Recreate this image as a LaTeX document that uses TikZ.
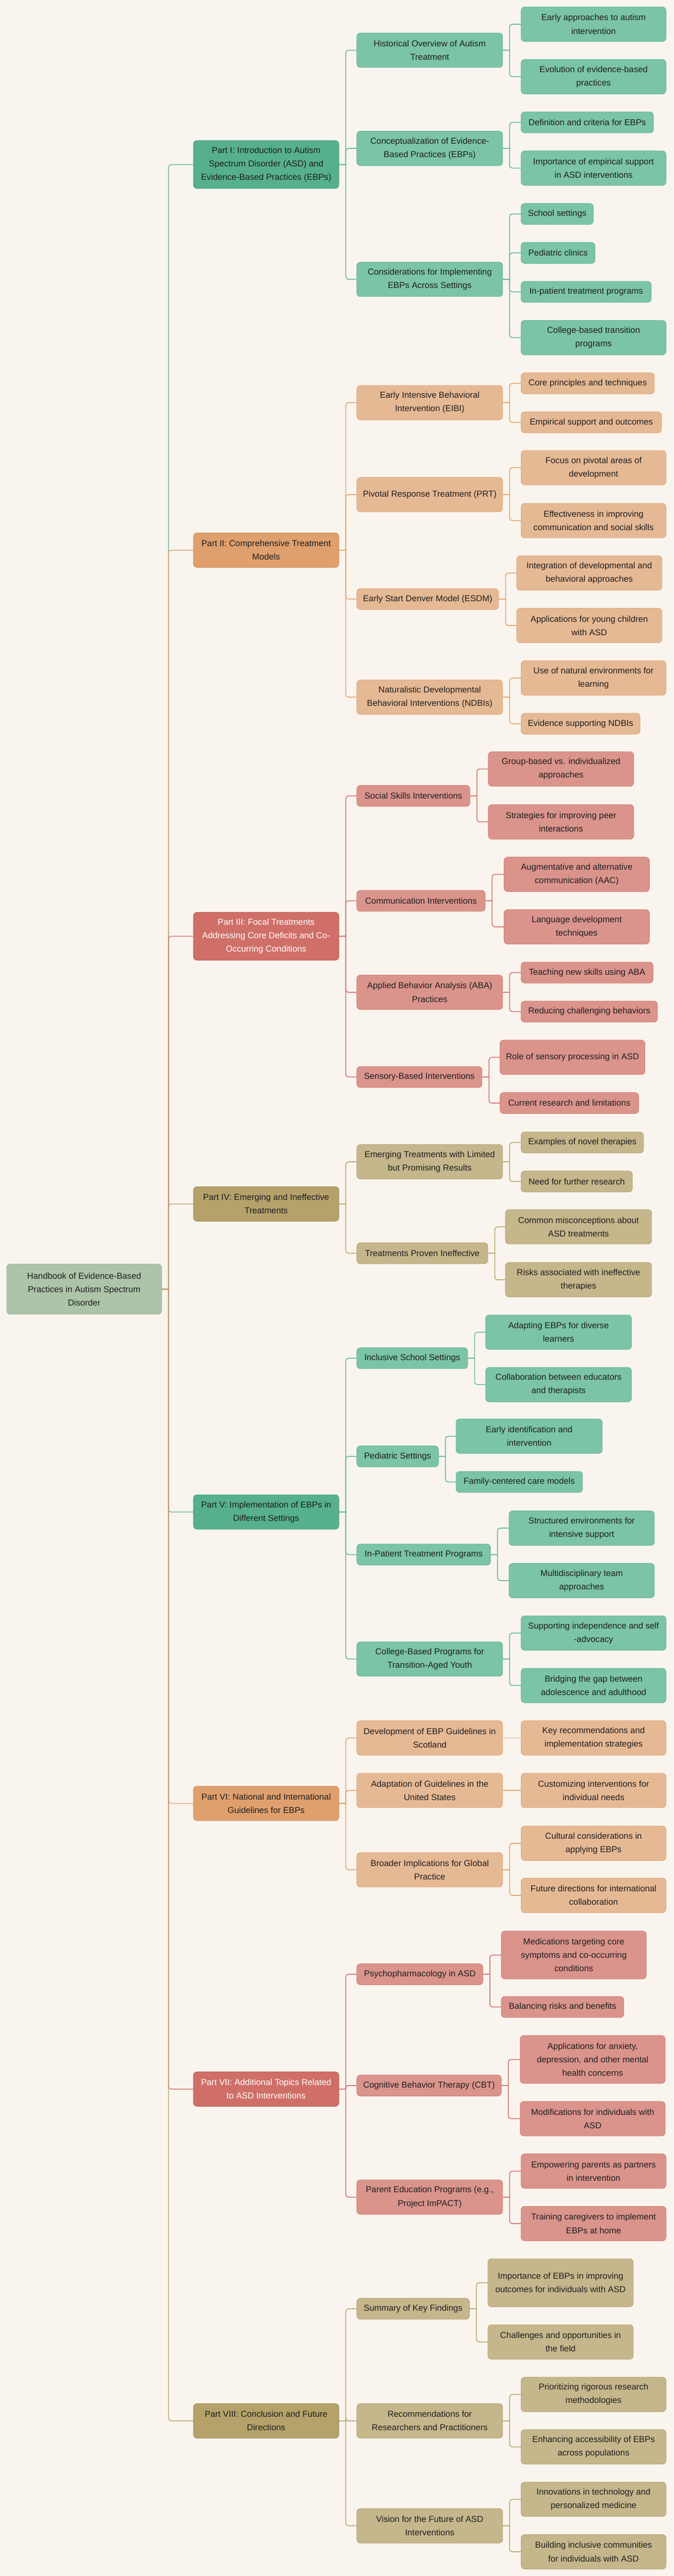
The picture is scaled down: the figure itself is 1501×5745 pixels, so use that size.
\documentclass[tikz,border=0pt]{standalone}
\usepackage{fontspec}
\setmainfont{Liberation Sans}
\usetikzlibrary{backgrounds}
\pgfdeclarelayer{bgfill}
\pgfdeclarelayer{links}
\pgfsetlayers{bgfill,links,main}
\definecolor{bg}{HTML}{F9F5EE}
\definecolor{txt}{HTML}{1E1E1E}
\definecolor{rootF}{HTML}{ADC4A9}\definecolor{rootB}{HTML}{9BB796}
\definecolor{g1F}{HTML}{56B08D}\definecolor{g1B}{HTML}{489E7D}
\definecolor{g2F}{HTML}{7BC4A7}\definecolor{g2B}{HTML}{69B896}
\definecolor{o1F}{HTML}{DFA06E}\definecolor{o1B}{HTML}{CF8E5B}
\definecolor{o2F}{HTML}{E6B995}\definecolor{o2B}{HTML}{E0A87C}
\definecolor{r1F}{HTML}{CF6F68}\definecolor{r1B}{HTML}{BD5E57}
\definecolor{r2F}{HTML}{DA948C}\definecolor{r2B}{HTML}{D27F77}
\definecolor{y1F}{HTML}{B4A26A}\definecolor{y1B}{HTML}{A2905A}
\definecolor{y2F}{HTML}{C5B68C}\definecolor{y2B}{HTML}{B6A676}
\definecolor{gL}{HTML}{6CBC99}\definecolor{oL}{HTML}{E3A672}
\definecolor{rL}{HTML}{D47B73}\definecolor{yL}{HTML}{BCAA74}
\tikzset{
  box/.style={draw, line width=1pt, rounded corners=8pt, inner sep=0pt, align=center,
    text=txt, font=\fontsize{19.2}{30}\selectfont},
  rootbox/.style={box, fill=rootF, draw=rootB},
  gA/.style={box, fill=g1F, draw=g1B}, gB/.style={box, fill=g2F, draw=g2B},
  oA/.style={box, fill=o1F, draw=o1B}, oB/.style={box, fill=o2F, draw=o2B},
  rA/.style={box, fill=r1F, draw=r1B, text=white}, rB/.style={box, fill=r2F, draw=r2B},
  yA/.style={box, fill=y1F, draw=y1B}, yB/.style={box, fill=y2F, draw=y2B},
  lnk/.style={line width=2pt},
  tg/.style={lnk, draw=g1F, draw opacity=0.8}, to/.style={lnk, draw=o1F, draw opacity=0.8},
  tr/.style={lnk, draw=r1F, draw opacity=0.8}, ty/.style={lnk, draw=y1F, draw opacity=0.8},
  cg/.style={lnk, draw=gL}, co/.style={lnk, draw=oL}, cr/.style={lnk, draw=rL}, cy/.style={lnk, draw=yL},
}
\newcommand\mynode[7]{\node[#2,minimum width=#4pt-#3pt,minimum height=#6pt] (#1) at ({(#3+#4)/2},#5) {#7};}
\newcommand\myconn[3]{\draw[#1] (#2.east) -- ++(15,0) [rounded corners=6pt] |- (#3.west);}
\newcommand\mystraight[3]{\draw[#1] (#2.east) -- (#3.west);}
\begin{document}
\begin{tikzpicture}[x=1pt,y=-1pt]
\begin{pgfonlayer}{bgfill}
\fill[bg] (0,0) rectangle (1501,5745);
\end{pgfonlayer}
\useasboundingbox (0,0) rectangle (1501,5745);
% ---------- nodes ----------
\mynode{root}{rootbox}{15}{360}{2875}{112}{Handbook of Evidence-Based\\Practices in Autism Spectrum\\Disorder}
% Part I
\mynode{p1}{gA}{431}{755}{367}{107}{Part I: Introduction to Autism\\Spectrum Disorder (ASD) and\\Evidence-Based Practices (EBPs)}
\mynode{p1a}{gB}{795}{1120}{112}{77}{Historical Overview of Autism\\Treatment}
\mynode{p1a1}{gB}{1161}{1484}{54}{77}{Early approaches to autism\\intervention}
\mynode{p1a2}{gB}{1161}{1484}{171}{77}{Evolution of evidence-based\\practices}
\mynode{p1b}{gB}{795}{1120}{331}{77}{Conceptualization of Evidence-\\Based Practices (EBPs)}
\mynode{p1b1}{gB}{1161}{1456}{273}{47}{Definition and criteria for EBPs}
\mynode{p1b2}{gB}{1161}{1484}{375}{77}{Importance of empirical support\\in ASD interventions}
\mynode{p1c}{gB}{795}{1120}{623}{77}{Considerations for Implementing\\EBPs Across Settings}
\mynode{p1c1}{gB}{1161}{1322}{477}{47}{School settings}
\mynode{p1c2}{gB}{1161}{1326}{564}{47}{Pediatric clinics}
\mynode{p1c3}{gB}{1161}{1451}{651}{47}{In-patient treatment programs}
\mynode{p1c4}{gB}{1161}{1484}{753}{77}{College-based transition\\programs}
% Part II
\mynode{p2}{oA}{431}{755}{1227}{77}{Part II: Comprehensive Treatment\\Models}
\mynode{p2a}{oB}{795}{1120}{898}{77}{Early Intensive Behavioral\\Intervention (EIBI)}
\mynode{p2a1}{oB}{1161}{1458}{855}{47}{Core principles and techniques}
\mynode{p2a2}{oB}{1161}{1474}{942}{47}{Empirical support and outcomes}
\mynode{p2b}{oB}{795}{1120}{1103}{77}{Pivotal Response Treatment (PRT)}
\mynode{p2b1}{oB}{1161}{1484}{1043}{77}{Focus on pivotal areas of\\development}
\mynode{p2b2}{oB}{1161}{1484}{1161}{77}{Effectiveness in improving\\communication and social skills}
\mynode{p2c}{oB}{795}{1111}{1336}{47}{Early Start Denver Model (ESDM)}
\mynode{p2c1}{oB}{1151}{1475}{1278}{77}{Integration of developmental and\\behavioral approaches}
\mynode{p2c2}{oB}{1151}{1475}{1395}{77}{Applications for young children\\with ASD}
\mynode{p2d}{oB}{795}{1120}{1555}{77}{Naturalistic Developmental\\Behavioral Interventions (NDBIs)}
\mynode{p2d1}{oB}{1161}{1484}{1512}{77}{Use of natural environments for\\learning}
\mynode{p2d2}{oB}{1161}{1426}{1614}{47}{Evidence supporting NDBIs}
% Part III
\mynode{p3}{rA}{431}{755}{2088}{107}{Part III: Focal Treatments\\Addressing Core Deficits and Co-\\Occurring Conditions}
\mynode{p3a}{rB}{795}{1047}{1775}{47}{Social Skills Interventions}
\mynode{p3a1}{rB}{1088}{1412}{1715}{77}{Group-based vs. individualized\\approaches}
\mynode{p3a2}{rB}{1088}{1412}{1833}{77}{Strategies for improving peer\\interactions}
\mynode{p3b}{rB}{795}{1081}{2009}{47}{Communication Interventions}
\mynode{p3b1}{rB}{1123}{1447}{1950}{77}{Augmentative and alternative\\communication (AAC)}
\mynode{p3b2}{rB}{1123}{1447}{2067}{77}{Language development\\techniques}
\mynode{p3c}{rB}{795}{1120}{2213}{77}{Applied Behavior Analysis (ABA)\\Practices}
\mynode{p3c1}{rB}{1161}{1455}{2169}{47}{Teaching new skills using ABA}
\mynode{p3c2}{rB}{1161}{1465}{2256}{47}{Reducing challenging behaviors}
\mynode{p3d}{rB}{795}{1074}{2402}{47}{Sensory-Based Interventions}
\mynode{p3d1}{rB}{1114}{1437}{2358}{77}{Role of sensory processing in ASD}
\mynode{p3d2}{rB}{1114}{1423}{2460}{47}{Current research and limitations}
% Part IV
\mynode{p4}{yA}{431}{755}{2685}{77}{Part IV: Emerging and Ineffective\\Treatments}
\mynode{p4a}{yB}{795}{1120}{2591}{77}{Emerging Treatments with Limited\\but Promising Results}
\mynode{p4a1}{yB}{1161}{1434}{2548}{47}{Examples of novel therapies}
\mynode{p4a2}{yB}{1161}{1409}{2635}{47}{Need for further research}
\mynode{p4b}{yB}{795}{1087}{2795}{47}{Treatments Proven Ineffective}
\mynode{p4b1}{yB}{1126}{1452}{2736}{77}{Common misconceptions about\\ASD treatments}
\mynode{p4b2}{yB}{1126}{1452}{2854}{77}{Risks associated with ineffective\\therapies}
% Part V
\mynode{p5}{gA}{431}{755}{3372}{77}{Part V: Implementation of EBPs in\\Different Settings}
\mynode{p5a}{gB}{795}{1042}{3029}{47}{Inclusive School Settings}
\mynode{p5a1}{gB}{1082}{1407}{2971}{77}{Adapting EBPs for diverse\\learners}
\mynode{p5a2}{gB}{1082}{1407}{3088}{77}{Collaboration between educators\\and therapists}
\mynode{p5b}{gB}{795}{977}{3248}{47}{Pediatric Settings}
\mynode{p5b1}{gB}{1016}{1342}{3203}{77}{Early identification and\\intervention}
\mynode{p5b2}{gB}{1016}{1298}{3305}{47}{Family-centered care models}
\mynode{p5c}{gB}{795}{1093}{3467}{47}{In-Patient Treatment Programs}
\mynode{p5c1}{gB}{1134}{1458}{3408}{77}{Structured environments for\\intensive support}
\mynode{p5c2}{gB}{1134}{1458}{3525}{77}{Multidisciplinary team\\approaches}
\mynode{p5d}{gB}{795}{1120}{3700}{77}{College-Based Programs for\\Transition-Aged Youth}
\mynode{p5d1}{gB}{1161}{1484}{3642}{77}{Supporting independence and self\\-advocacy}
\mynode{p5d2}{gB}{1161}{1484}{3759}{77}{Bridging the gap between\\adolescence and adulthood}
% Part VI
\mynode{p6}{oA}{431}{755}{4022}{77}{Part VI: National and International\\Guidelines for EBPs}
\mynode{p6a}{oB}{795}{1120}{3876}{77}{Development of EBP Guidelines in\\Scotland}
\mynode{p6a1}{oB}{1161}{1484}{3876}{77}{Key recommendations and\\implementation strategies}
\mynode{p6b}{oB}{795}{1120}{3993}{77}{Adaptation of Guidelines in the\\United States}
\mynode{p6b1}{oB}{1161}{1484}{3993}{77}{Customizing interventions for\\individual needs}
\mynode{p6c}{oB}{795}{1120}{4170}{77}{Broader Implications for Global\\Practice}
\mynode{p6c1}{oB}{1161}{1484}{4111}{77}{Cultural considerations in\\applying EBPs}
\mynode{p6c2}{oB}{1161}{1484}{4227}{77}{Future directions for international\\collaboration}
% Part VII
\mynode{p7}{rA}{431}{755}{4659}{77}{Part VII: Additional Topics Related\\to ASD Interventions}
\mynode{p7a}{rB}{795}{1076}{4403}{47}{Psychopharmacology in ASD}
\mynode{p7a1}{rB}{1117}{1440}{4360}{107}{Medications targeting core\\symptoms and co-occurring\\conditions}
\mynode{p7a2}{rB}{1117}{1390}{4476}{47}{Balancing risks and benefits}
\mynode{p7b}{rB}{795}{1117}{4651}{47}{Cognitive Behavior Therapy (CBT)}
\mynode{p7b1}{rB}{1159}{1482}{4593}{107}{Applications for anxiety,\\depression, and other mental\\health concerns}
\mynode{p7b2}{rB}{1159}{1482}{4725}{77}{Modifications for individuals with\\ASD}
\mynode{p7c}{rB}{795}{1120}{4900}{77}{Parent Education Programs (e.g.,\\Project ImPACT)}
\mynode{p7c1}{rB}{1161}{1484}{4842}{77}{Empowering parents as partners\\in intervention}
\mynode{p7c2}{rB}{1161}{1484}{4959}{77}{Training caregivers to implement\\EBPs at home}
% Part VIII
\mynode{p8}{yA}{431}{755}{5399}{77}{Part VIII: Conclusion and Future\\Directions}
\mynode{p8a}{yB}{795}{1046}{5149}{47}{Summary of Key Findings}
\mynode{p8a1}{yB}{1087}{1411}{5091}{107}{Importance of EBPs in improving\\outcomes for individuals with ASD}
\mynode{p8a2}{yB}{1087}{1411}{5223}{77}{Challenges and opportunities in\\the field}
\mynode{p8b}{yB}{795}{1120}{5399}{77}{Recommendations for\\Researchers and Practitioners}
\mynode{p8b1}{yB}{1161}{1484}{5340}{77}{Prioritizing rigorous research\\methodologies}
\mynode{p8b2}{yB}{1161}{1484}{5457}{77}{Enhancing accessibility of EBPs\\across populations}
\mynode{p8c}{yB}{795}{1120}{5633}{77}{Vision for the Future of ASD\\Interventions}
\mynode{p8c1}{yB}{1161}{1484}{5574}{77}{Innovations in technology and\\personalized medicine}
\mynode{p8c2}{yB}{1161}{1484}{5691}{77}{Building inclusive communities\\for individuals with ASD}
% ---------- connectors (behind nodes) ----------
\begin{pgfonlayer}{links}
% trunk
\myconn{tg}{root}{p1}
\myconn{to}{root}{p2}
\myconn{tr}{root}{p3}
\myconn{ty}{root}{p4}
\myconn{tg}{root}{p5}
\myconn{to}{root}{p6}
\myconn{tr}{root}{p7}
\myconn{ty}{root}{p8}
% Part I
\myconn{cg}{p1}{p1a}\myconn{cg}{p1}{p1b}\myconn{cg}{p1}{p1c}
\myconn{cg}{p1a}{p1a1}\myconn{cg}{p1a}{p1a2}
\myconn{cg}{p1b}{p1b1}\myconn{cg}{p1b}{p1b2}
\myconn{cg}{p1c}{p1c1}\myconn{cg}{p1c}{p1c2}\myconn{cg}{p1c}{p1c3}\myconn{cg}{p1c}{p1c4}
% Part II
\myconn{co}{p2}{p2a}\myconn{co}{p2}{p2b}\myconn{co}{p2}{p2c}\myconn{co}{p2}{p2d}
\myconn{co}{p2a}{p2a1}\myconn{co}{p2a}{p2a2}
\myconn{co}{p2b}{p2b1}\myconn{co}{p2b}{p2b2}
\myconn{co}{p2c}{p2c1}\myconn{co}{p2c}{p2c2}
\myconn{co}{p2d}{p2d1}\myconn{co}{p2d}{p2d2}
% Part III
\myconn{cr}{p3}{p3a}\myconn{cr}{p3}{p3b}\myconn{cr}{p3}{p3c}\myconn{cr}{p3}{p3d}
\myconn{cr}{p3a}{p3a1}\myconn{cr}{p3a}{p3a2}
\myconn{cr}{p3b}{p3b1}\myconn{cr}{p3b}{p3b2}
\myconn{cr}{p3c}{p3c1}\myconn{cr}{p3c}{p3c2}
\myconn{cr}{p3d}{p3d1}\myconn{cr}{p3d}{p3d2}
% Part IV
\myconn{cy}{p4}{p4a}\myconn{cy}{p4}{p4b}
\myconn{cy}{p4a}{p4a1}\myconn{cy}{p4a}{p4a2}
\myconn{cy}{p4b}{p4b1}\myconn{cy}{p4b}{p4b2}
% Part V
\myconn{cg}{p5}{p5a}\myconn{cg}{p5}{p5b}\myconn{cg}{p5}{p5c}\myconn{cg}{p5}{p5d}
\myconn{cg}{p5a}{p5a1}\myconn{cg}{p5a}{p5a2}
\myconn{cg}{p5b}{p5b1}\myconn{cg}{p5b}{p5b2}
\myconn{cg}{p5c}{p5c1}\myconn{cg}{p5c}{p5c2}
\myconn{cg}{p5d}{p5d1}\myconn{cg}{p5d}{p5d2}
% Part VI
\myconn{co}{p6}{p6a}\myconn{co}{p6}{p6b}\myconn{co}{p6}{p6c}
\mystraight{co}{p6a}{p6a1}
\mystraight{co}{p6b}{p6b1}
\myconn{co}{p6c}{p6c1}\myconn{co}{p6c}{p6c2}
% Part VII
\myconn{cr}{p7}{p7a}\myconn{cr}{p7}{p7b}\myconn{cr}{p7}{p7c}
\myconn{cr}{p7a}{p7a1}\myconn{cr}{p7a}{p7a2}
\myconn{cr}{p7b}{p7b1}\myconn{cr}{p7b}{p7b2}
\myconn{cr}{p7c}{p7c1}\myconn{cr}{p7c}{p7c2}
% Part VIII
\myconn{cy}{p8}{p8a}\myconn{cy}{p8}{p8b}\myconn{cy}{p8}{p8c}
\myconn{cy}{p8a}{p8a1}\myconn{cy}{p8a}{p8a2}
\myconn{cy}{p8b}{p8b1}\myconn{cy}{p8b}{p8b2}
\myconn{cy}{p8c}{p8c1}\myconn{cy}{p8c}{p8c2}
\end{pgfonlayer}
\end{tikzpicture}
\end{document}
